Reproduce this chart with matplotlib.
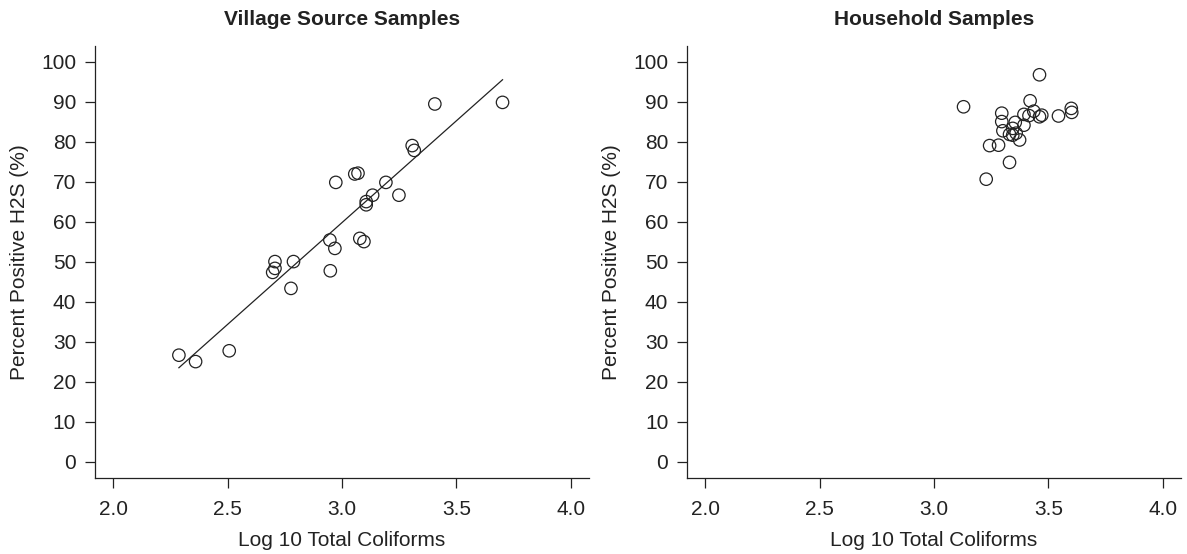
import numpy as np
import matplotlib
matplotlib.use("Agg")
import matplotlib.pyplot as plt

# Village source samples (log10 total coliforms, % positive H2S)
village_x = [2.287, 2.360, 2.507, 2.707, 2.707, 2.697, 2.788, 2.777, 2.949, 2.947,
             2.969, 2.973, 3.056, 3.070, 3.078, 3.096, 3.106, 3.106, 3.134, 3.192,
             3.249, 3.307, 3.316, 3.406, 3.702]
village_y = [26.7, 25.1, 27.8, 50.1, 48.4, 47.4, 50.1, 43.4, 47.8, 55.5,
             53.4, 69.9, 72.0, 72.2, 55.9, 55.1, 65.1, 64.3, 66.7, 69.9,
             66.7, 79.1, 77.9, 89.5, 89.9]

# Household samples
house_x = [3.461, 3.129, 3.420, 3.296, 3.296, 3.301, 3.355, 3.393, 3.393, 3.415,
           3.436, 3.461, 3.471, 3.544, 3.600, 3.602, 3.330, 3.344, 3.359, 3.344,
           3.374, 3.243, 3.282, 3.330, 3.228]
house_y = [96.8, 88.8, 90.3, 87.2, 85.1, 82.8, 84.9, 86.9, 84.2, 86.6,
           87.7, 86.3, 86.7, 86.5, 88.4, 87.4, 81.9, 81.7, 82.2, 83.4,
           80.5, 79.1, 79.2, 74.9, 70.7]

titles = ["Village Source Samples", "Household Samples"]
xticks = [2.0, 2.5, 3.0, 3.5, 4.0]
yticks = list(range(0, 101, 10))

plt.rcParams['font.family'] = ['Liberation Sans', 'DejaVu Sans']
ink = '#222222'
fs = 15

fig = plt.figure(figsize=(11.87, 5.54), dpi=100)
ax1 = fig.add_axes([0.0800, 0.1372, 0.4162, 0.7798])
ax2 = fig.add_axes([0.5788, 0.1372, 0.4162, 0.7798])

datasets = [(village_x, village_y), (house_x, house_y)]
for ax, (xs, ys), title in zip([ax1, ax2], datasets, titles):
    ax.scatter(xs, ys, s=80, facecolors='none', edgecolors=ink, linewidths=0.9, zorder=3)
    ax.set_xlim(1.92, 4.08)
    ax.set_ylim(-4, 104)
    ax.set_xticks(xticks)
    ax.set_xticklabels(["%.1f" % t for t in xticks])
    ax.set_yticks(yticks)
    ax.spines['top'].set_visible(False)
    ax.spines['right'].set_visible(False)
    for sp in ['left', 'bottom']:
        ax.spines[sp].set_color(ink)
        ax.spines[sp].set_linewidth(0.9)
    ax.tick_params(axis='both', length=7.5, width=0.9, color=ink, labelsize=fs,
                   labelcolor=ink)
    ax.tick_params(axis='x', pad=8)
    ax.tick_params(axis='y', pad=6)
    ax.set_xlabel("Log 10 Total Coliforms", fontsize=fs, color=ink, labelpad=9)
    ax.set_ylabel("Percent Positive H2S (%)", fontsize=fs, color=ink, labelpad=9)
    ax.set_title(title, fontsize=fs, fontweight='bold', color=ink, pad=15)

# least squares fit for the village panel
b, a = np.polyfit(village_x, village_y, 1)
fx = np.array([min(village_x), max(village_x)])
ax1.plot(fx, a + b * fx, color=ink, linewidth=0.9)

fig.savefig("out.png", dpi=100)
